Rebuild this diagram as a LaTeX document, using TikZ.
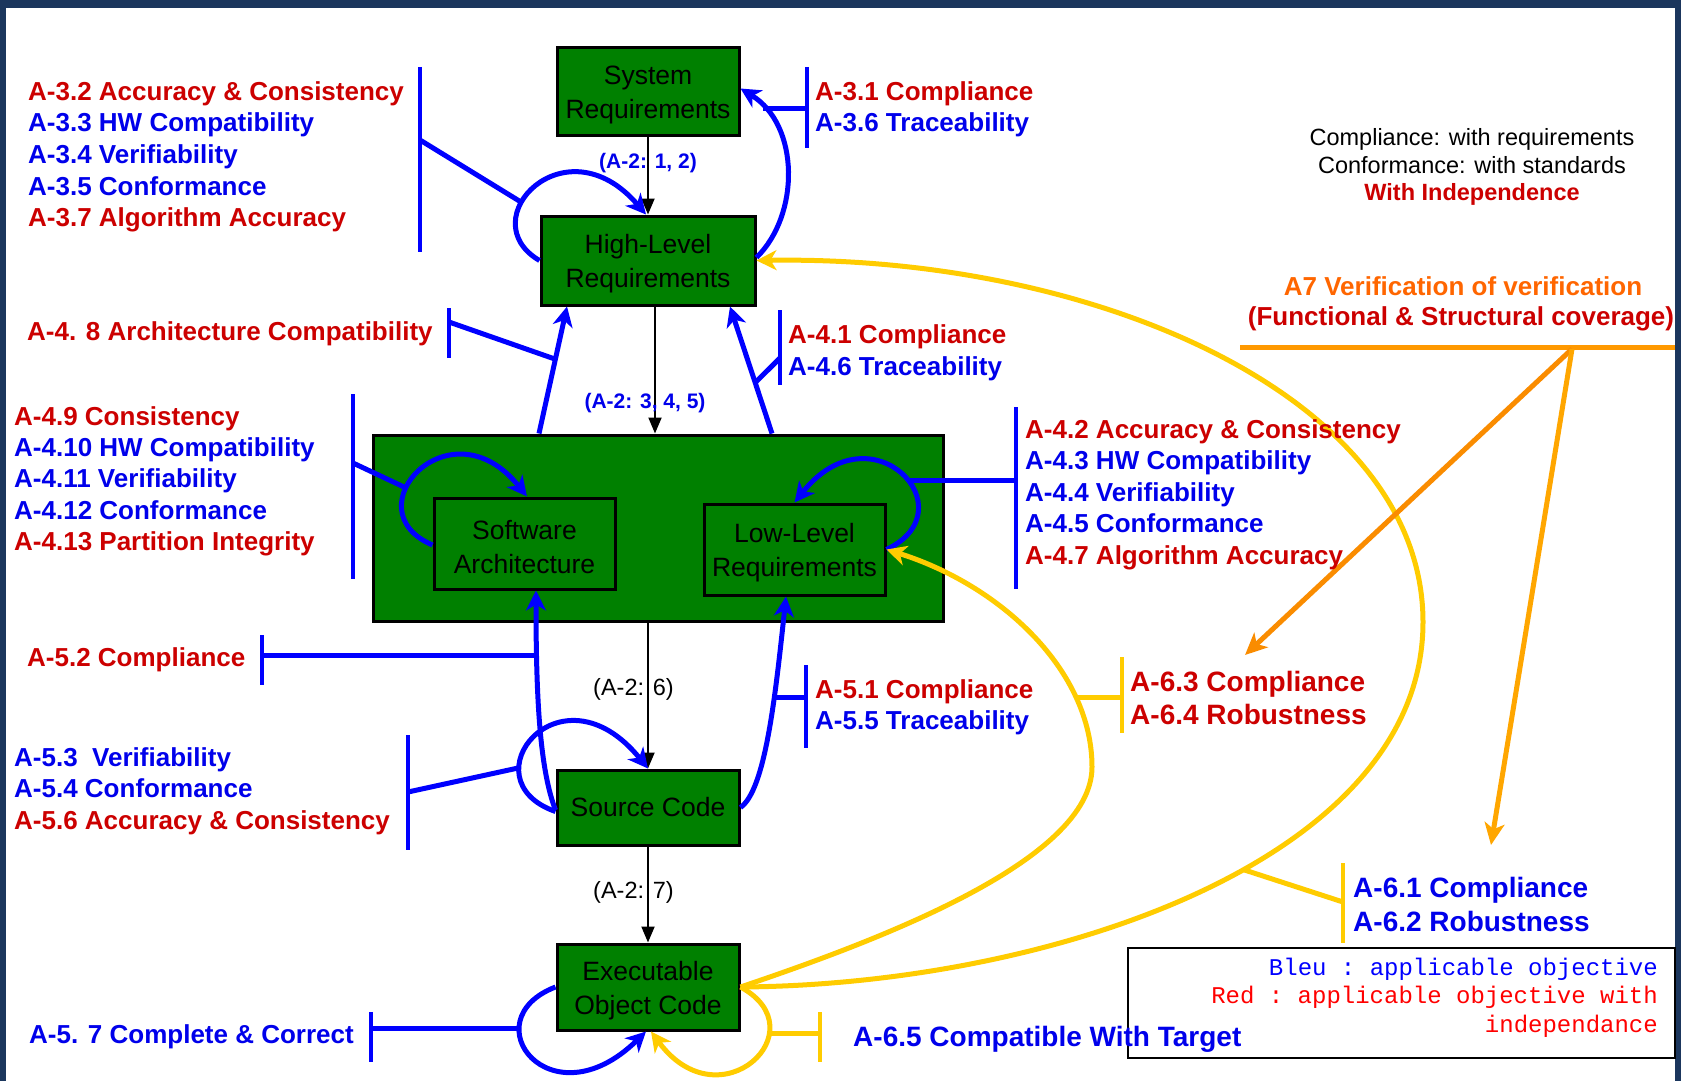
\documentclass[tikz,border=0pt]{standalone}
\usepackage{fontspec}
\setmainfont{Liberation Sans}
\setmonofont{Liberation Mono}
\usetikzlibrary{arrows.meta}

\definecolor{navy}{RGB}{27,54,93}
\definecolor{boxgreen}{RGB}{0,128,0}
\definecolor{lblue}{RGB}{0,0,255}
\definecolor{tblue}{RGB}{0,0,235}
\definecolor{tred}{RGB}{204,0,0}
\definecolor{gold}{RGB}{255,204,0}
\definecolor{orangeH}{RGB}{255,153,0}
\definecolor{orangeD}{RGB}{250,140,0}
\definecolor{orangeL}{RGB}{255,166,0}
\definecolor{orangeT}{RGB}{255,102,0}
\definecolor{legblue}{RGB}{0,0,255}
\definecolor{legred}{RGB}{255,0,0}

% extra height on the first line of two-line box captions
\newcommand\boxstrut{\rule{0pt}{26pt}}

\begin{document}
\begin{tikzpicture}[x=1pt,y=-1pt,
  box/.style={draw=black, line width=3pt, fill=boxgreen, align=center, inner sep=0pt,
    font=\fontsize{26.5}{34}\selectfont},
  lbl/.style={anchor=base west, inner sep=0pt, font=\fontsize{26}{31}\selectfont\bfseries},
  lblbig/.style={anchor=base west, inner sep=0pt, font=\fontsize{28}{33}\selectfont\bfseries},
  note/.style={anchor=base, inner sep=0pt, font=\fontsize{23.5}{28}\selectfont},
  flow/.style={draw=black, line width=2pt, -{Triangle[length=16pt,width=13pt]}},
  flowlbl/.style={anchor=base, inner sep=0pt, font=\fontsize{21}{25}\selectfont\bfseries, text=tblue},
  flowlblk/.style={anchor=base, inner sep=0pt, font=\fontsize{23.5}{28}\selectfont, text=black},
  bline/.style={draw=lblue, line width=5pt},
  barrow/.style={bline, -{Stealth[length=20pt,width=20pt,inset=6pt]}},
  bbar/.style={draw=lblue, line width=4.5pt},
  yline/.style={draw=gold, line width=5pt},
  yarrow/.style={yline, -{Stealth[length=20pt,width=20pt,inset=6pt]}},
  ybar/.style={draw=gold, line width=4.5pt},
  oline/.style={line width=5pt},
  oarrow/.style={oline, -{Stealth[length=22pt,width=20pt,inset=6pt]}},
  legtxt/.style={anchor=base east, inner sep=0pt, font=\ttfamily\fontsize{24}{29}\selectfont}
]
\useasboundingbox (0,0) rectangle (1681,1081);

% frame and page
\fill[navy] (0,0) rectangle (1681,1081);
\fill[white] (6,8) rectangle (1675,1081);

% legend box
\node[draw=black, line width=2.5pt, fill=white, minimum width=547pt, minimum height=110pt,
  inner sep=0pt] (legend) at (1401.5,1003) {};
\node[legtxt, text=legblue] (leg1) at (1658,975) {Bleu : applicable objective};
\node[legtxt, text=legred] (leg2) at (1658,1003) {Red : applicable objective with};
\node[legtxt, text=legred] (leg3) at (1658,1032) {independance};

% life-cycle data boxes
\node[box, minimum width=182pt, minimum height=87pt] (sys) at (648,91.5) {\boxstrut System\\Requirements};
\node[box, minimum width=214pt, minimum height=89pt] (hlr) at (648,260.5) {\boxstrut High-Level\\Requirements};
\node[box, minimum width=570pt, minimum height=186pt] (big) at (658,528) {};
\node[box, minimum width=181pt, minimum height=91pt] (sa) at (524.5,543.5) {\boxstrut Software\\Architecture};
\node[box, minimum width=181pt, minimum height=91pt] (llr) at (794.5,549.5) {\boxstrut Low-Level\\Requirements};
\node[box, minimum width=182pt, minimum height=75pt] (sc) at (648,807.5) {Source Code};
\node[box, minimum width=182pt, minimum height=86pt] (eoc) at (648,987) {\boxstrut Executable\\Object Code};

% development flow
\draw[flow] (sys.south) -- (hlr.north);
\draw[flow] ([xshift=7pt]hlr.south) -- ([xshift=-3pt]big.north);
\draw[flow] ([xshift=-10pt]big.south) -- (sc.north);
\draw[flow] (sc.south) -- (eoc.north);
\node[flowlbl] (f12) at (648,168) {(A-2: 1, 2)};
\node[flowlbl] (f345) at (645,408) {(A-2: 3, 4, 5)};
\node[flowlblk] (f6) at (633.5,695) {(A-2: 6)};
\node[flowlblk] (f7) at (633.5,898) {(A-2: 7)};

% bar anchors
\coordinate (b1t) at (420,67);   \coordinate (b1b) at (420,252);  \coordinate (b1j) at (420,140);
\coordinate (b2t) at (807,67);   \coordinate (b2b) at (807,148);
\coordinate (b3t) at (449,308);  \coordinate (b3b) at (449,358);  \coordinate (b3j) at (449,322);
\coordinate (b4t) at (780,310);  \coordinate (b4b) at (780,385);  \coordinate (b4j) at (780,358);
\coordinate (b5t) at (353,394);  \coordinate (b5b) at (353,579);  \coordinate (b5j) at (353,463);
\coordinate (b6t) at (1016,407); \coordinate (b6b) at (1016,589);
\coordinate (b7t) at (262,635);  \coordinate (b7b) at (262,685);
\coordinate (b8t) at (408,735);  \coordinate (b8b) at (408,850);  \coordinate (b8j) at (408,792);
\coordinate (b9t) at (806,665);  \coordinate (b9b) at (806,748);
\coordinate (b10t) at (371,1012); \coordinate (b10b) at (371,1062);
\coordinate (b11t) at (820,1012); \coordinate (b11b) at (820,1062);
\coordinate (b12t) at (1122,657); \coordinate (b12b) at (1122,733);
\coordinate (b13t) at (1343,863); \coordinate (b13b) at (1343,943); \coordinate (b13j) at (1343,902);

% high-level requirements review
\draw[barrow] (hlr.west) .. controls (470,220) and (565,120) .. ([xshift=-2pt]hlr.north) coordinate[pos=0.38] (jhl);
\draw[bbar] (b1t) -- (b1b);
\draw[bline] (b1j) -- (jhl);
\draw[barrow] ([yshift=3pt]hlr.east) .. controls (800,215) and (800,125) .. ([yshift=3pt]sys.east) coordinate[pos=0.85] (j31);
\draw[bbar] (b2t) -- (b2b);
\draw[bline] (j31) -- (j31 -| b2t);

% design review
\draw[barrow] ([xshift=-119pt]big.north) -- ([xshift=-81pt]hlr.south) coordinate[pos=0.585] (j48);
\draw[bbar] (b3t) -- (b3b);
\draw[bline] (b3j) -- (j48);
\draw[barrow] ([xshift=114pt]big.north) -- ([xshift=82pt]hlr.south) coordinate[pos=0.4] (j41);
\draw[bbar] (b4t) -- (b4b);
\draw[bline] (b4j) -- (j41);
\draw[barrow] ([yshift=-1.5pt]sa.west) .. controls (350,510) and (450,400) .. ([xshift=2.5pt]sa.north) coordinate[pos=0.38] (jsa);
\draw[bbar] (b5t) -- (b5b);
\draw[bline] (b5j) -- (jsa);
\draw[barrow] (llr.east) .. controls (970,510) and (872,405) .. (llr.north) coordinate[pos=0.45] (jll);
\draw[bbar] (b6t) -- (b6b);
\draw[bline] (jll) -- (jll -| b6t);

% coding review
\draw[barrow] ([yshift=-2.5pt]sc.west) .. controls (540,770) and (536,700) .. ([xshift=11.5pt]sa.south) coordinate[pos=0.785] (j52);
\draw[bbar] (b7t) -- (b7b);
\draw[bline] (j52) -- (j52 -| b7t);
\draw[barrow] ([yshift=-4pt]sc.west) .. controls (465,780) and (560,660) .. (sc.north) coordinate[pos=0.3] (jsc);
\draw[bbar] (b8t) -- (b8b);
\draw[bline] (b8j) -- (jsc);
\draw[barrow] (sc.east) .. controls (765,790) and (775,700) .. ([xshift=-8.5pt]llr.south) coordinate[pos=0.65] (j51);
\draw[bbar] (b9t) -- (b9b);
\draw[bline] (j51) -- (j51 -| b9t);
\draw[barrow] (eoc.west) .. controls (470,1020) and (550,1125) .. ([xshift=-2pt]eoc.south) coordinate[pos=0.3] (jeo);
\draw[bbar] (b10t) -- (b10b);
\draw[bline] (jeo) -- (jeo -| b10t);

% testing
\draw[yarrow] (eoc.east) .. controls (820,1030) and (720,1125) .. ([xshift=3pt]eoc.south) coordinate[pos=0.3] (jyl);
\draw[ybar] (b11t) -- (b11b);
\draw[yline] (jyl) -- (jyl -| b11t);
\coordinate (ya) at (1092,767);
\draw[yarrow] (eoc.east) .. controls (880,940) and (1092,860) .. (ya)
  .. controls (1092,670) and (1000,585) .. (llr.east) coordinate[pos=0.25] (j63);
\draw[ybar] (b12t) -- (b12b);
\draw[yline] (j63) -- (j63 -| b12t);
\coordinate (yb) at (1423,622);
\draw[yarrow] (eoc.east) .. controls (1050,985) and (1423,860) .. (yb) coordinate[pos=0.56] (j61)
  .. controls (1423,400) and (1100,255) .. (hlr.east);
\draw[ybar] (b13t) -- (b13b);
\draw[yline] (b13j) -- (j61);

% verification of verification
\coordinate (oL) at (1240,347);
\coordinate (oR) at (1675,347);
\coordinate (oapex) at (1572,349);
\coordinate (o63) at (1245,655);
\coordinate (o61) at (1491,845);
\draw[oline, draw=orangeH] (oL) -- (oR);
\draw[oarrow, draw=orangeD] (oapex) -- (o63);
\draw[oarrow, draw=orangeL] (oapex) -- (o61);

% objective labels
\node[lbl, text=tred]  (t32) at (28,100.5) {A-3.2 Accuracy \& Consistency};
\node[lbl, text=tblue] (t33) at (28,131.8) {A-3.3 HW Compatibility};
\node[lbl, text=tblue] (t34) at (28,163) {A-3.4 Verifiability};
\node[lbl, text=tblue] (t35) at (28,195) {A-3.5 Conformance};
\node[lbl, text=tred]  (t37) at (28,226.5) {A-3.7 Algorithm Accuracy};

\node[lbl, text=tred]  (t31) at (815,100.5) {A-3.1 Compliance};
\node[lbl, text=tblue] (t36) at (815,131.8) {A-3.6 Traceability};

\node[lbl, text=tred]  (t48) at (27,340.5) {A-4. 8 Architecture Compatibility};

\node[lbl, text=tred]  (t41) at (788,343.5) {A-4.1 Compliance};
\node[lbl, text=tblue] (t46) at (788,375.5) {A-4.6 Traceability};

\node[lbl, text=tred]  (t49)  at (14,425.5) {A-4.9 Consistency};
\node[lbl, text=tblue] (t410) at (14,456.5) {A-4.10 HW Compatibility};
\node[lbl, text=tblue] (t411) at (14,487.5) {A-4.11 Verifiability};
\node[lbl, text=tblue] (t412) at (14,519.5) {A-4.12 Conformance};
\node[lbl, text=tred]  (t413) at (14,550.5) {A-4.13 Partition Integrity};

\node[lbl, text=tred]  (t42) at (1025,438.5) {A-4.2 Accuracy \& Consistency};
\node[lbl, text=tblue] (t43) at (1025,469.5) {A-4.3 HW Compatibility};
\node[lbl, text=tblue] (t44) at (1025,501.5) {A-4.4 Verifiability};
\node[lbl, text=tblue] (t45) at (1025,532.5) {A-4.5 Conformance};
\node[lbl, text=tred]  (t47) at (1025,564.5) {A-4.7 Algorithm Accuracy};

\node[lbl, text=tred]  (t52) at (27,666.5) {A-5.2 Compliance};

\node[lbl, text=tred]  (t51) at (815,698.5) {A-5.1 Compliance};
\node[lbl, text=tblue] (t55) at (815,729.5) {A-5.5 Traceability};

\node[lbl, text=tblue] (t53) at (14,766.5) {A-5.3\ \ Verifiability};
\node[lbl, text=tblue] (t54) at (14,797.5) {A-5.4 Conformance};
\node[lbl, text=tred]  (t56) at (14,829.5) {A-5.6 Accuracy \& Consistency};

\node[lblbig, text=tred] (t63) at (1130,691.5) {A-6.3 Compliance};
\node[lblbig, text=tred] (t64) at (1130,724.5) {A-6.4 Robustness};

\node[lblbig, text=tblue] (t61) at (1353,897.5) {A-6.1 Compliance};
\node[lblbig, text=tblue] (t62) at (1353,931.5) {A-6.2 Robustness};

\node[lbl, text=tblue] (t57) at (29,1043.5) {A-5. 7 Complete \& Correct};
\node[lblbig, text=tblue] (t65) at (853,1046) {A-6.5 Compatible With Target};

% notes
\node[note] (n1) at (1472,145) {Compliance: with requirements};
\node[note] (n2) at (1472,173) {Conformance: with standards};
\node[note, text=tred, font=\fontsize{23.5}{28}\selectfont\bfseries] (n3) at (1472,200.5) {With Independence};
\node[lbl, anchor=base, text=orangeT] (a7a) at (1463,295.5) {A7 Verification of verification};
\node[lbl, anchor=base, text=tred] (a7b) at (1461,325) {(Functional \& Structural coverage)};

\end{tikzpicture}
\end{document}
